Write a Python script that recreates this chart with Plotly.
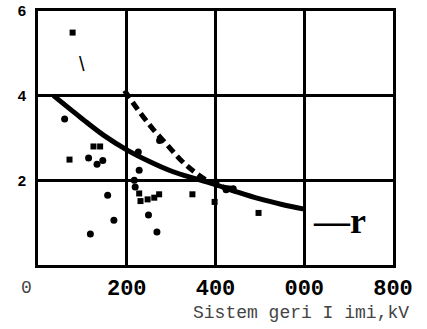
import plotly.graph_objects as go

# Solid curve
solid_x = [35, 100, 150, 200, 250, 300, 350, 400, 450, 500, 550, 600]
solid_y = [4.0, 3.45, 3.05, 2.72, 2.45, 2.22, 2.05, 1.9, 1.72, 1.56, 1.43, 1.32]
# Dashed curve
dash_x = [195, 230, 260, 290, 320, 350, 380, 410, 445]
dash_y = [4.12, 3.6, 3.2, 2.85, 2.5, 2.22, 2.0, 1.86, 1.8]
# Scatter: circles
circ_x = [60, 114, 133, 146, 157, 171, 118, 226, 228, 217, 219, 249, 268, 274, 401, 424, 440]
circ_y = [3.45, 2.53, 2.38, 2.47, 1.65, 1.06, 0.73, 2.67, 2.24, 2.0, 1.84, 1.18, 0.78, 2.94, 1.96, 1.78, 1.8]
# Scatter: squares
sq_x = [78, 71, 125, 140, 228, 231, 247, 262, 273, 348, 398, 497]
sq_y = [5.49, 2.49, 2.8, 2.8, 1.69, 1.51, 1.55, 1.59, 1.67, 1.67, 1.49, 1.23]

xtick_vals = [200, 400, 600, 800]
xtick_text = ["200", "400", "000", "800"]
ytick_vals = [2, 4, 6]
ytick_text = ["2", "4", "6"]

fig = go.Figure()
fig.add_trace(go.Scatter(x=solid_x, y=solid_y, mode="lines",
                         line=dict(color="black", width=5, shape="spline"), hoverinfo="skip"))
fig.add_trace(go.Scatter(x=dash_x, y=dash_y, mode="lines",
                         line=dict(color="black", width=5, dash="9px,5px", shape="spline"), hoverinfo="skip"))
fig.add_trace(go.Scatter(x=circ_x, y=circ_y, mode="markers",
                         marker=dict(symbol="circle", size=7, color="black")))
fig.add_trace(go.Scatter(x=sq_x, y=sq_y, mode="markers",
                         marker=dict(symbol="square", size=6, color="black")))

fig.update_layout(
    width=427, height=329,
    margin=dict(l=38, r=34, t=11, b=64, autoexpand=False),
    paper_bgcolor="white", plot_bgcolor="white",
    showlegend=False,
    xaxis=dict(range=[0, 800], tickvals=xtick_vals, ticktext=xtick_text,
               showgrid=True, gridcolor="black", gridwidth=2.5, automargin=False,
               showline=True, linecolor="black", linewidth=3, mirror=True,
               ticks="", zeroline=False, ticklabelstandoff=1,
               tickfont=dict(family="Liberation Mono", size=22, color="black", weight="bold")),
    yaxis=dict(range=[0, 6], tickvals=ytick_vals, ticktext=ytick_text,
               showgrid=True, gridcolor="black", gridwidth=2.5, automargin=False,
               showline=True, linecolor="black", linewidth=3, mirror=True,
               ticks="", zeroline=False, ticklabelstandoff=6, ticklabeloverflow="allow",
               tickfont=dict(family="Liberation Sans", size=15, color="black", weight="bold")),
    annotations=[
        dict(text="0", xref="paper", yref="paper", x=-0.033, y=-0.09, showarrow=False,
             xanchor="center", yanchor="middle",
             font=dict(family="Liberation Mono", size=18, color="#444")),
        dict(text="Sistem geri I imi,kV", xref="paper", yref="paper", x=1.05, y=-0.19,
             showarrow=False, xanchor="right", yanchor="middle",
             font=dict(family="Liberation Mono", size=18, color="#444")),
        dict(text="—r", xref="paper", yref="paper", x=0.85, y=0.175, showarrow=False,
             xanchor="center", yanchor="middle",
             font=dict(family="Liberation Serif", size=36, color="black", weight="bold")),
        dict(text="\\", xref="x", yref="y", x=100, y=4.75, showarrow=False,
             font=dict(family="Liberation Sans", size=20, color="black")),
    ],
)

fig.write_html("out.html", config={"displayModeBar": False},
               post_script="document.body.style.margin='0';")
